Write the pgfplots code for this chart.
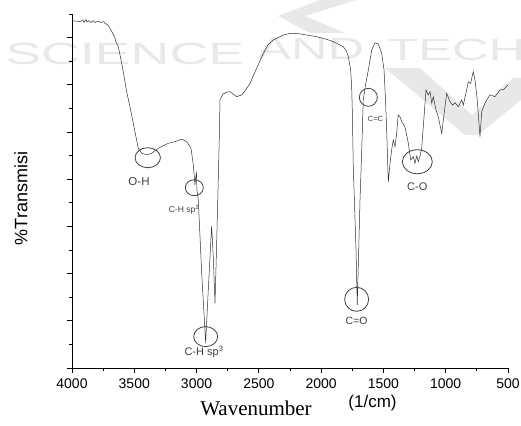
\documentclass[border=0pt]{standalone}
\usepackage{fontspec}
\setmainfont{Liberation Sans}
\newfontfamily\seriffont{Liberation Serif}
\usepackage{pgfplots}
\pgfplotsset{compat=1.18}
\definecolor{wm}{HTML}{E8E8E8}
\definecolor{ann}{HTML}{404040}
\definecolor{curve}{HTML}{303030}
\begin{document}
\begin{tikzpicture}[x=1pt,y=1pt]
\useasboundingbox (0pt,0pt) rectangle (521pt,425pt);
% watermark
\fill[wm] (320,425) -- (356,425) -- (305,409) -- (345,392) -- (310,392) -- (278,409) -- cycle;
\fill[wm] (385,357) -- (420,357) -- (472,310) -- (513,347) -- (521,347) -- (521,325) -- (478,290) -- (465,290) -- cycle;
\node[wm, anchor=west, inner sep=0, xscale=1.75, font=\fontsize{30.7}{32}\selectfont] at (5,371.5) {SCIENCE};
\node[wm, anchor=west, inner sep=0, xscale=1.65, font=\fontsize{30.7}{32}\selectfont] at (257,376) {AND};
\node[wm, anchor=west, inner sep=0, xscale=1.65, font=\fontsize{30.7}{32}\selectfont] at (387,375) {TECH};
\begin{axis}[at={(72pt,57pt)}, anchor=south west, scale only axis,
  width=436pt, height=354pt,
  xmin=500, xmax=4000, x dir=reverse, ymin=0, ymax=15,
  axis x line*=bottom, axis y line*=left,
  axis line style={black, line width=0.8pt},
  xtick={500,1000,...,4000}, minor x tick num=1,
  ytick={0,2,...,14}, minor ytick={1,3,...,15}, yticklabels={},
  tick align=outside, major tick length=5pt, minor tick length=3pt,
  every tick/.style={black, line width=0.8pt},
  xticklabel style={font=\fontsize{14}{16}\selectfont, yshift=-2.5pt},
  /pgf/number format/assume math mode=true,
  /pgf/number format/set thousands separator={},
  clip=false]
\addplot[color=curve, line width=0.5pt] table {
x y
4000 14.72
3968 14.70
3936 14.68
3912 14.75
3904 14.64
3888 14.77
3880 14.66
3864 14.72
3847 14.64
3831 14.72
3815 14.64
3791 14.70
3767 14.64
3751 14.68
3735 14.61
3711 14.53
3695 14.39
3679 14.24
3655 13.98
3647 13.81
3628 13.61
3601 12.92
3561 11.71
3521 10.72
3494 10.00
3468 9.31
3440 9.10
3400 9.03
3360 9.10
3307 9.31
3270 9.41
3227 9.52
3173 9.59
3119 9.70
3079 9.59
3045 9.32
3026 8.60
3013 7.75
3009 7.97
3001 8.31
2997 7.54
2986 7.12
2959 4.03
2927 1.07
2906 3.31
2879 6.02
2866 4.72
2852 2.74
2838 5.42
2818 9.66
2812 11.36
2788 11.61
2758 11.69
2732 11.71
2708 11.61
2678 11.50
2638 11.57
2611 11.74
2571 12.06
2517 12.71
2464 13.33
2427 13.69
2384 13.90
2304 14.11
2250 14.18
2186 14.17
2116 14.11
2049 14.05
1983 13.97
1929 13.88
1875 13.76
1822 13.61
1796 13.43
1782 13.19
1763 12.63
1755 11.92
1750 10.93
1742 8.53
1720 5.00
1710 2.67
1702 4.29
1688 7.12
1674 9.24
1662 11.36
1644 11.99
1621 12.63
1594 13.47
1568 13.78
1541 13.73
1514 13.33
1495 12.63
1482 11.22
1474 10.08
1461 7.89
1447 8.67
1434 9.24
1421 9.66
1407 9.38
1394 9.94
1381 10.72
1367 10.65
1353 10.44
1327 10.22
1300 9.52
1281 8.81
1260 8.95
1247 8.67
1233 8.98
1220 8.74
1206 8.98
1193 9.31
1180 10.22
1158 11.78
1140 11.57
1126 11.71
1112 11.22
1100 11.50
1078 10.93
1060 10.65
1032 9.94
1006 11.07
992 11.64
966 11.28
944 11.14
925 11.24
899 11.07
872 11.36
859 11.14
832 11.78
819 12.13
800 12.06
779 12.56
765 12.20
747 11.36
725 9.80
711 10.86
685 11.22
645 11.57
604 11.50
564 11.78
532 11.81
502 11.99
};
% annotations
\draw[ann, line width=0.8pt] (axis cs:3392,8.91) ellipse [x radius=12.7pt, y radius=10pt];
\draw[ann, line width=0.8pt] (axis cs:3018,7.64) ellipse [x radius=9pt, y radius=8pt];
\draw[ann, line width=0.8pt] (axis cs:2927,1.33) ellipse [x radius=12pt, y radius=10pt];
\draw[ann, line width=0.8pt] (axis cs:1715,2.91) ellipse [x radius=12pt, y radius=12pt];
\draw[ann, line width=0.8pt] (axis cs:1621,11.47) ellipse [x radius=9pt, y radius=9pt];
\draw[ann, line width=0.8pt] (axis cs:1228,8.74) ellipse [x radius=15pt, y radius=12pt];
\node[ann, font=\fontsize{11.5}{13}\selectfont] at (axis cs:3462,7.90) {O-H};
\node[ann, font=\fontsize{8.5}{10}\selectfont] at (axis cs:3101,6.69) {C-H sp\textsuperscript{2}};
\node[ann, font=\fontsize{11}{13}\selectfont] at (axis cs:2940,0.68) {C-H sp\textsuperscript{3}};
\node[ann, font=\fontsize{10.5}{12}\selectfont] at (axis cs:1715,1.99) {C=O};
\node[ann, font=\fontsize{7.5}{9}\selectfont] at (axis cs:1564,10.55) {C=C};
\node[ann, font=\fontsize{11}{13}\selectfont] at (axis cs:1228,7.67) {C-O};
\end{axis}
\node[rotate=90, font=\fontsize{18}{20}\selectfont] at (21pt,226.5pt) {\%Transmisi};
\node[anchor=base, font=\seriffont\fontsize{21}{24}\selectfont] at (256pt,10pt) {Wavenumber};
\node[font=\fontsize{17}{19}\selectfont] at (372.5pt,22pt) {(1/cm)};
\end{tikzpicture}
\end{document}
